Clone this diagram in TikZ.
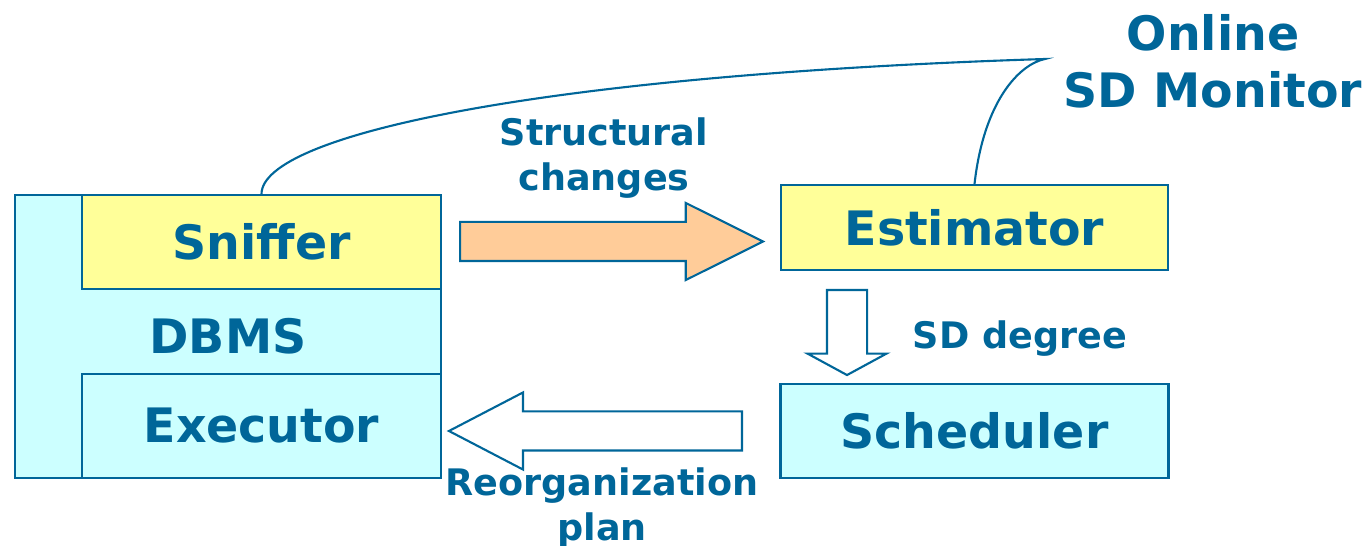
\documentclass[tikz,border=0pt]{standalone}
\usepackage{fontspec}
\setmainfont{DejaVu Sans}
\usetikzlibrary{shapes.arrows}
\definecolor{sdblue}{RGB}{0,102,153}
\definecolor{sdyellow}{RGB}{255,255,153}
\definecolor{sdcyan}{RGB}{204,255,255}
\definecolor{sdorange}{RGB}{255,204,153}

\begin{document}
\begin{tikzpicture}[x=0.1mm, y=-0.1mm, line width=0.6pt,
    block/.style={draw=sdblue, text=sdblue, inner sep=0pt, font=\fontsize{13.5}{16.2}\bfseries\selectfont},
    label/.style={text=sdblue, align=center, inner sep=0pt, font=\fontsize{10.4}{13}\bfseries\selectfont},
    bigarrow/.style={draw=sdblue, single arrow, anchor=tail, inner xsep=0pt, inner ysep=1.85mm, single arrow head extend=1.9mm},]
        \useasboundingbox (0,0) rectangle (1368,546);
        % DBMS with its two modules
        \node[block, fill=sdcyan, minimum width=42.6mm, minimum height=28.3mm] (dbms) at (228,336.5) {DBMS};
        \node[block, fill=sdyellow, minimum width=35.9mm, minimum height=9.4mm] (sniffer) at (261.5,242) {Sniffer};
        \node[block, fill=sdcyan, minimum width=35.9mm, minimum height=10.4mm] (executor) at (261.5,426) {Executor};
        % monitor side
        \node[block, fill=sdyellow, minimum width=38.7mm, minimum height=8.5mm] (estimator) at (974.5,227.5) {Estimator};
        \node[block, fill=sdcyan, minimum width=38.8mm, minimum height=9.4mm] (scheduler) at (974.5,431) {Scheduler};
        % block arrows
        \node[bigarrow, fill=sdorange, minimum height=30.3mm, single arrow tip angle=53] (toest) at (459,241.5) {};
        \node[bigarrow, fill=white, minimum height=8.5mm, inner xsep=1.9mm, inner ysep=0pt, single arrow head extend=1.95mm, single arrow tip angle=123, shape border rotate=270] (tosched) at (847,289) {};
        \node[bigarrow, fill=white, minimum height=29.3mm, single arrow tip angle=55, shape border rotate=180] (toexec) at (743,431) {};
        % labels
        \node[label] (changes) at (604,158) {Structural\\changes};
        \node[label] (degree) at (1020,339) {SD degree};
        \node[label] (plan) at (602,508) {Reorganization\\plan};
        \node[block, draw=none, align=center] (monitor) at (1213,61) {Online\\SD Monitor};
        % brace of the monitor
        \coordinate (apex) at (1045,59);
        \draw[sdblue] (sniffer.north) .. controls (262,135) and (540,75) .. (apex)
            .. controls (1020,64) and (984,100) .. (estimator.north);
      \end{tikzpicture}
\end{document}
